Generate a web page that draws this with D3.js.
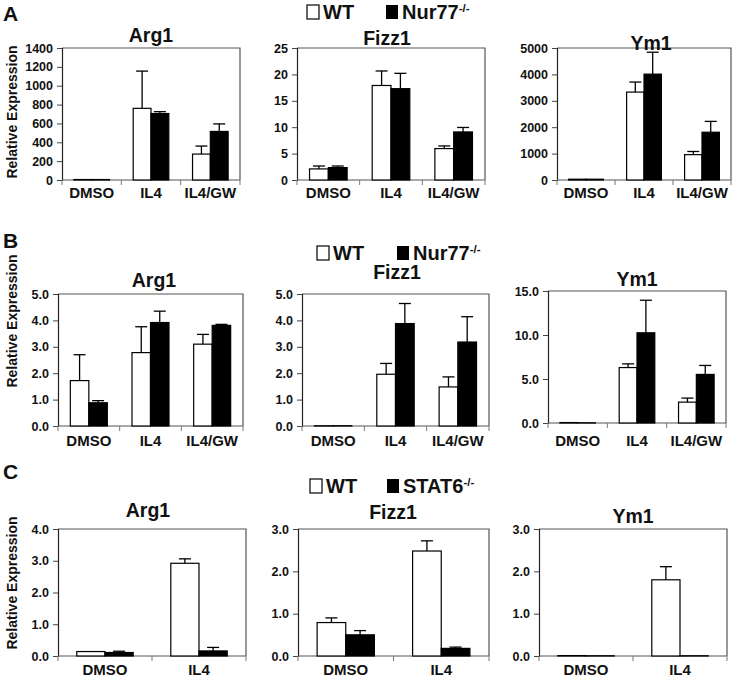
<!DOCTYPE html>
<html><head><meta charset="utf-8">
<script src="https://cdn.jsdelivr.net/npm/d3@7"></script>
<style>
html,body{margin:0;padding:0;background:#fff;}
svg{display:block;font-family:"Liberation Sans",Arial,sans-serif;font-weight:bold;}
</style></head>
<body><svg id="c" width="733" height="681"></svg>
<script>
// ---------- DATA ----------
const categories3 = ["DMSO", "IL4", "IL4/GW"];
const categories2 = ["DMSO", "IL4"];
const genes = ["Arg1", "Fizz1", "Ym1"];
const seriesAB = ["WT", "Nur77"];
const seriesC = ["WT", "STAT6"];

// Row A (Nur77, absolute)
const aArg1WT = [5, 760, 275],      aArg1WTErr = [0, 395, 85];
const aArg1KO = [5, 705, 515],      aArg1KOErr = [0, 20, 80];
const aFizz1WT = [2.1, 17.9, 5.95], aFizz1WTErr = [0.55, 2.75, 0.5];
const aFizz1KO = [2.35, 17.3, 9.1], aFizz1KOErr = [0.3, 2.9, 0.85];
const aYm1WT = [30, 3330, 960],     aYm1WTErr = [0, 380, 120];
const aYm1KO = [30, 4010, 1810],    aYm1KOErr = [0, 830, 410];
// Row B (Nur77)
const bArg1WT = [1.72, 2.78, 3.1],  bArg1WTErr = [0.98, 0.98, 0.37];
const bArg1KO = [0.88, 3.92, 3.81], bArg1KOErr = [0.08, 0.43, 0.04];
const bFizz1WT = [0.01, 1.96, 1.48], bFizz1WTErr = [0, 0.41, 0.38];
const bFizz1KO = [0.01, 3.88, 3.18], bFizz1KOErr = [0, 0.76, 0.96];
const bYm1WT = [0.05, 6.3, 2.37],   bYm1WTErr = [0, 0.42, 0.46];
const bYm1KO = [0.02, 10.25, 5.52], bYm1KOErr = [0, 3.7, 1.02];
// Row C (STAT6)
const cArg1WT = [0.14, 2.92],  cArg1WTErr = [0, 0.14];
const cArg1KO = [0.11, 0.16],  cArg1KOErr = [0.04, 0.11];
const cFizz1WT = [0.79, 2.48], cFizz1WTErr = [0.11, 0.24];
const cFizz1KO = [0.5, 0.18],  cFizz1KOErr = [0.1, 0.03];
const cYm1WT = [0.01, 1.8],    cYm1WTErr = [0, 0.31];
const cYm1KO = [0.005, 0.005], cYm1KOErr = [0, 0];

// tick values
const ticksAArg1 = [0, 200, 400, 600, 800, 1000, 1200, 1400];
const ticksAFizz1 = [0, 5, 10, 15, 20, 25];
const ticksAYm1 = [0, 1000, 2000, 3000, 4000, 5000];
const ticksB5 = [0, 1, 2, 3, 4, 5];
const ticksB15 = [0, 5, 10, 15];
const ticksC4 = [0, 1, 2, 3, 4];
const ticksC3 = [0, 1, 2, 3];

// ---------- LAYOUT ----------
const panels = [
  {gene: genes[0], cats: categories3, wt: aArg1WT, wtE: aArg1WTErr, ko: aArg1KO, koE: aArg1KOErr, ticks: ticksAArg1, fmt: "d",
   L: 62, R: 240, T: 48, B: 180, tx: 151, ty: 42, lab: 198},
  {gene: genes[1], cats: categories3, wt: aFizz1WT, wtE: aFizz1WTErr, ko: aFizz1KO, koE: aFizz1KOErr, ticks: ticksAFizz1, fmt: "d",
   L: 297, R: 485, T: 48, B: 180, tx: 387, ty: 45, lab: 198},
  {gene: genes[2], cats: categories3, wt: aYm1WT, wtE: aYm1WTErr, ko: aYm1KO, koE: aYm1KOErr, ticks: ticksAYm1, fmt: "d",
   L: 557, R: 731, T: 48, B: 180, tx: 651, ty: 50, lab: 198},
  {gene: genes[0], cats: categories3, wt: bArg1WT, wtE: bArg1WTErr, ko: bArg1KO, koE: bArg1KOErr, ticks: ticksB5, fmt: ".1f",
   L: 58, R: 243, T: 294, B: 426, tx: 154, ty: 287, lab: 446},
  {gene: genes[1], cats: categories3, wt: bFizz1WT, wtE: bFizz1WTErr, ko: bFizz1KO, koE: bFizz1KOErr, ticks: ticksB5, fmt: ".1f",
   L: 302, R: 489, T: 294, B: 426, tx: 397, ty: 279, lab: 446},
  {gene: genes[2], cats: categories3, wt: bYm1WT, wtE: bYm1WTErr, ko: bYm1KO, koE: bYm1KOErr, ticks: ticksB15, fmt: ".1f",
   L: 548, R: 726, T: 291, B: 423, tx: 637, ty: 286, lab: 446},
  {gene: genes[0], cats: categories2, wt: cArg1WT, wtE: cArg1WTErr, ko: cArg1KO, koE: cArg1KOErr, ticks: ticksC4, fmt: ".1f",
   L: 58, R: 246, T: 529, B: 656, tx: 148, ty: 517, lab: 675},
  {gene: genes[1], cats: categories2, wt: cFizz1WT, wtE: cFizz1WTErr, ko: cFizz1KO, koE: cFizz1KOErr, ticks: ticksC3, fmt: ".1f",
   L: 298, R: 489, T: 529, B: 656, tx: 393, ty: 519, lab: 675},
  {gene: genes[2], cats: categories2, wt: cYm1WT, wtE: cYm1WTErr, ko: cYm1KO, koE: cYm1KOErr, ticks: ticksC3, fmt: ".1f",
   L: 539, R: 727, T: 529, B: 656, tx: 633, ty: 523, lab: 675}
];

const svg = d3.select("#c");
svg.append("rect").attr("width", 733).attr("height", 681).attr("fill", "#fff");

panels.forEach(p => {
  const g = svg.append("g");
  const x = d3.scaleBand().domain(p.cats).range([p.L, p.R]).paddingInner(0.4).paddingOuter(0.2);
  const xs = d3.scaleBand().domain([0, 1]).range([0, x.bandwidth()]);
  const y = d3.scaleLinear().domain([0, p.ticks[p.ticks.length - 1]]).range([p.B, p.T]);

  // frame top & right
  g.append("path").attr("d", `M${p.L},${p.T}H${p.R}V${p.B}`).attr("fill", "none")
    .attr("stroke", "#555").attr("stroke-width", 1.2);

  // y axis
  const ya = d3.axisLeft(y).tickValues(p.ticks).tickSize(5).tickPadding(4).tickFormat(d3.format(p.fmt));
  const yg = g.append("g").attr("transform", `translate(${p.L},0)`).call(ya);
  yg.select(".domain").attr("stroke", "#222").attr("stroke-width", 1.2);
  yg.selectAll(".tick line").attr("stroke", "#444");
  yg.selectAll(".tick text").attr("font-size", 12.5).attr("font-weight", "bold")
    .attr("font-family", "Liberation Sans, Arial, sans-serif").attr("fill", "#111");

  // x axis line with boundary ticks
  g.append("line").attr("x1", p.L).attr("x2", p.R).attr("y1", p.B).attr("y2", p.B)
    .attr("stroke", "#555").attr("stroke-width", 1.2);
  const bounds = d3.range(p.cats.length + 1).map(i => p.L + i * x.step());
  g.selectAll(".xb").data(bounds).join("line")
    .attr("x1", d => d).attr("x2", d => d).attr("y1", p.B).attr("y2", p.B + 5)
    .attr("stroke", "#777").attr("stroke-width", 1);
  g.selectAll(".xl").data(p.cats).join("text")
    .attr("x", d => x(d) + x.bandwidth() / 2).attr("y", p.lab)
    .attr("text-anchor", "middle").attr("font-size", 15).attr("fill", "#111").text(d => d);

  // bars
  const series = [{v: p.wt, e: p.wtE, fill: "#fff"}, {v: p.ko, e: p.koE, fill: "#000"}];
  series.forEach((s, si) => {
    p.cats.forEach((c, ci) => {
      const bx = x(c) + xs(si), bw = xs.bandwidth();
      const v = s.v[ci];
      g.append("rect").attr("x", bx).attr("y", y(v)).attr("width", bw)
        .attr("height", Math.max(0, y(0) - y(v)))
        .attr("fill", s.fill).attr("stroke", "#000").attr("stroke-width", 1.2);
      const e = s.e[ci];
      if (e > 0) {
        const cx = bx + bw / 2;
        g.append("line").attr("x1", cx).attr("x2", cx).attr("y1", y(v)).attr("y2", y(v + e))
          .attr("stroke", "#000").attr("stroke-width", 1.3);
        g.append("line").attr("x1", cx - 6).attr("x2", cx + 6).attr("y1", y(v + e)).attr("y2", y(v + e))
          .attr("stroke", "#000").attr("stroke-width", 1.3);
      }
    });
  });

  // title
  g.append("text").attr("x", p.tx).attr("y", p.ty).attr("text-anchor", "middle")
    .attr("font-size", 19.5).attr("fill", "#111").text(p.gene);
});

// panel letters
[["A", 3, 21], ["B", 3, 248], ["C", 3, 479]].forEach(([t, xx, yy]) => {
  svg.append("text").attr("x", xx).attr("y", yy).attr("font-size", 21).attr("fill", "#111").text(t);
});

// y axis titles
[[12, 112], [12, 321], [12, 583]].forEach(([xx, yy]) => {
  svg.append("text").attr("transform", `translate(${xx + 5},${yy}) rotate(-90)`)
    .attr("text-anchor", "middle").attr("font-size", 14).attr("fill", "#111").text("Relative Expression");
});

// legends
const legends = [
  {x: 307, y: 19, ko: seriesAB[1], kx: 386},
  {x: 317, y: 260, ko: seriesAB[1], kx: 397},
  {x: 310, y: 493, ko: seriesC[1], kx: 387}
];
legends.forEach(l => {
  svg.append("rect").attr("x", l.x).attr("y", l.y - 14).attr("width", 12).attr("height", 14)
    .attr("fill", "#fff").attr("stroke", "#000").attr("stroke-width", 1.2);
  svg.append("text").attr("x", l.x + 16).attr("y", l.y).attr("font-size", 20).attr("fill", "#111").text(seriesAB[0]);
  svg.append("rect").attr("x", l.kx).attr("y", l.y - 14).attr("width", 12).attr("height", 14).attr("fill", "#000");
  const t = svg.append("text").attr("x", l.kx + 16).attr("y", l.y).attr("font-size", 20).attr("fill", "#111");
  t.append("tspan").text(l.ko);
  t.append("tspan").attr("font-size", 11.5).attr("dy", -7).text("-/-");
});
</script></body></html>
